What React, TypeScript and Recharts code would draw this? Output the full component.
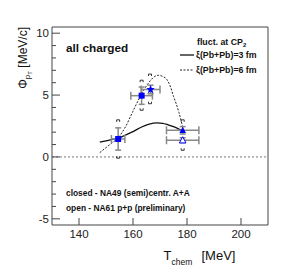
import React from "react";
import { ComposedChart, Line, Scatter, ErrorBar, XAxis, YAxis, ReferenceLine, ReferenceArea } from "recharts";

// model curves: fluctuations at CP2
const curve3fmT = [147.7, 150, 152, 154.5, 157, 160, 163, 166, 169, 171, 173, 175, 177, 178.3];
const curve3fmPhi = [1.2, 1.3, 1.4, 1.5, 1.75, 2.05, 2.4, 2.65, 2.75, 2.72, 2.6, 2.45, 2.25, 2.1];
const curve6fmT = [147.7, 150, 152, 154.5, 157, 160, 162, 164, 166, 168, 169.5, 171, 172.5, 174, 175, 176, 177, 178.3];
const curve6fmPhi = [0.35, 0.75, 1.1, 1.55, 2.35, 3.7, 4.6, 5.4, 6.05, 6.5, 6.6, 6.5, 6.27, 5.6, 4.9, 4.3, 3.6, 2.5];

// NA49 (closed) and NA61 (open) points
const squareT = [154.5, 163.2];
const squarePhi = [1.45, 4.95];
const squareErrT = [2.5, 4];
const squareErrPhi = [0.9, 0.7];
const starT = [166.5];
const starPhi = [5.45];
const starErrT = [3.5];
const starErrPhi = [0.35];
const triT = [178.4];
const triPhi = [2.15];
const triErrT = [6];
const triErrPhi = [0.3];
const openTriT = [178.4];
const openTriPhi = [1.35];
const openTriErrT = [6];
const openTriErrPhi = [0.2];

// systematic error brackets
const sysHighT = [154.5, 163.2, 166.3, 178.4];
const sysHighPhi = [3.0, 6.2, 6.7, 3.0];
const sysLowT = [154.5, 163.2, 166.3, 178.4];
const sysLowPhi = [-0.1, 3.77, 4.3, 0.54];

const yTicks = [-5, -4, -3, -2, -1, 0, 1, 2, 3, 4, 5, 6, 7, 8, 9, 10];
const xTicks = [140, 160, 180, 200];

const zip = (ts: number[], ps: number[], ets?: number[], eps?: number[]) =>
  ts.map((t, i) => ({ t, phi: ps[i], et: ets ? ets[i] : 0, ep: eps ? eps[i] : 0 }));

const BLUE = "#0000ff";
const AXIS = "#444";
const ERR = "#888";
const FONT = '"Liberation Sans", Arial, sans-serif';

const YTick = (props: any) => {
  const { x, y, payload } = props;
  const ax = x + 3;
  const major = payload.value % 5 === 0;
  return (
    <g>
      <line x1={ax} x2={ax + (major ? 8 : 4)} y1={y} y2={y} stroke={AXIS} />
      {major && (
        <text x={x} y={y} dy="0.36em" textAnchor="end" fontSize={11.5} fill="#222" fontFamily={FONT}>
          {payload.value}
        </text>
      )}
    </g>
  );
};

const XTick = (props: any) => {
  const { x, y, payload } = props;
  const ay = y - 4;
  return (
    <g>
      <line x1={x} x2={x} y1={ay} y2={ay - 7} stroke={AXIS} />
      <text x={x} y={ay + 12.5} textAnchor="middle" fontSize={11.5} fill="#222" fontFamily={FONT}>
        {payload.value}
      </text>
    </g>
  );
};

const Square = (p: any) => <rect x={p.cx - 3} y={p.cy - 3} width={6} height={6} fill={BLUE} />;

const Star = (p: any) => {
  const pts: string[] = [];
  for (let i = 0; i < 10; i++) {
    const r = i % 2 === 0 ? 4.5 : 1.9;
    const a = -Math.PI / 2 + (i * Math.PI) / 5;
    pts.push(`${p.cx + r * Math.cos(a)},${p.cy + r * Math.sin(a)}`);
  }
  return <polygon points={pts.join(" ")} fill={BLUE} />;
};

const Tri = (p: any) => (
  <polygon points={`${p.cx},${p.cy - 3.5} ${p.cx - 3.3},${p.cy + 2.7} ${p.cx + 3.3},${p.cy + 2.7}`} fill={BLUE} />
);

const OpenTri = (p: any) => (
  <polygon
    points={`${p.cx},${p.cy - 3.5} ${p.cx - 3.3},${p.cy + 2.7} ${p.cx + 3.3},${p.cy + 2.7}`}
    fill="#fff"
    stroke={BLUE}
    strokeWidth={1}
  />
);

const BracketHigh = (p: any) => (
  <path d={`M${p.cx - 1.5},${p.cy + 2} L${p.cx - 1.5},${p.cy} L${p.cx + 1.5},${p.cy} L${p.cx + 1.5},${p.cy + 2}`} fill="none" stroke="#333" />
);
const BracketLow = (p: any) => (
  <path d={`M${p.cx - 1.5},${p.cy - 2} L${p.cx - 1.5},${p.cy} L${p.cx + 1.5},${p.cy} L${p.cx + 1.5},${p.cy - 2}`} fill="none" stroke="#333" />
);

export default function App() {
  return (
    <div style={{ position: "absolute", left: 0, top: 0, width: 291, height: 275, background: "#fff", fontFamily: FONT }}>
      <ComposedChart width={291} height={275} margin={{ top: 27, right: 23, left: 12, bottom: 20 }}>
        <XAxis
          type="number"
          dataKey="t"
          domain={[130, 210]}
          ticks={xTicks}
          allowDataOverflow
          axisLine={false}
          tickLine={false}
          tickSize={0}
          tickMargin={4}
          height={30}
          tick={<XTick />}
        />
        <YAxis
          type="number"
          dataKey="phi"
          domain={[-5.5, 10.5]}
          ticks={yTicks}
          interval={0}
          allowDataOverflow
          axisLine={false}
          tickLine={false}
          tickSize={0}
          tickMargin={3}
          width={40}
          tick={<YTick />}
        />
        <ReferenceArea x1={130} x2={210} y1={-5.5} y2={10.5} fill="none" stroke={AXIS} strokeWidth={1} />
        <ReferenceLine y={0} stroke="#777" strokeDasharray="2 2" />
        <Line
          data={zip(curve3fmT, curve3fmPhi)}
          dataKey="phi"
          type="monotone"
          stroke="#111"
          strokeWidth={1.3}
          dot={false}
          isAnimationActive={false}
        />
        <Line
          data={zip(curve6fmT, curve6fmPhi)}
          dataKey="phi"
          type="monotone"
          stroke="#222"
          strokeWidth={1}
          strokeDasharray="2 1.5"
          dot={false}
          isAnimationActive={false}
        />
        <Scatter data={zip(sysHighT, sysHighPhi)} dataKey="phi" shape={<BracketHigh />} isAnimationActive={false} />
        <Scatter data={zip(sysLowT, sysLowPhi)} dataKey="phi" shape={<BracketLow />} isAnimationActive={false} />
        <Scatter data={zip(openTriT, openTriPhi, openTriErrT, openTriErrPhi)} dataKey="phi" shape={<OpenTri />} isAnimationActive={false}>
          <ErrorBar dataKey="et" direction="x" width={4} stroke={ERR} isAnimationActive={false} />
          <ErrorBar dataKey="ep" direction="y" width={3} stroke={ERR} isAnimationActive={false} />
        </Scatter>
        <Scatter data={zip(squareT, squarePhi, squareErrT, squareErrPhi)} dataKey="phi" shape={<Square />} isAnimationActive={false}>
          <ErrorBar dataKey="et" direction="x" width={4} stroke={ERR} isAnimationActive={false} />
          <ErrorBar dataKey="ep" direction="y" width={3} stroke={ERR} isAnimationActive={false} />
        </Scatter>
        <Scatter data={zip(starT, starPhi, starErrT, starErrPhi)} dataKey="phi" shape={<Star />} isAnimationActive={false}>
          <ErrorBar dataKey="et" direction="x" width={4} stroke={ERR} isAnimationActive={false} />
          <ErrorBar dataKey="ep" direction="y" width={3} stroke={ERR} isAnimationActive={false} />
        </Scatter>
        <Scatter data={zip(triT, triPhi, triErrT, triErrPhi)} dataKey="phi" shape={<Tri />} isAnimationActive={false}>
          <ErrorBar dataKey="et" direction="x" width={4} stroke={ERR} isAnimationActive={false} />
          <ErrorBar dataKey="ep" direction="y" width={3} stroke={ERR} isAnimationActive={false} />
        </Scatter>
      </ComposedChart>

      <svg width={291} height={275} style={{ position: "absolute", left: 0, top: 0, pointerEvents: "none" }} fontFamily={FONT}>
        <text x={66} y={52} fontSize={11.8} fontWeight="bold" fill="#111">all charged</text>

        <text x={197} y={45} fontSize={8.8} fontWeight="bold" fill="#111">
          fluct. at CP<tspan dy={2} fontSize={6}>2</tspan>
        </text>
        <line x1={180} x2={194} y1={55} y2={55} stroke="#111" strokeWidth={1.3} />
        <text x={196} y={58.2} fontSize={8.8} fontWeight="bold" fill="#111">ξ(Pb+Pb)=3 fm</text>
        <line x1={180} x2={194} y1={70} y2={70} stroke="#222" strokeDasharray="2 1.5" />
        <text x={196} y={73.2} fontSize={8.8} fontWeight="bold" fill="#111">ξ(Pb+Pb)=6 fm</text>

        <text x={66} y={196} fontSize={8.4} fontWeight="bold" fill="#111">closed - NA49 (semi)centr. A+A</text>
        <text x={66} y={210.5} fontSize={8.4} fontWeight="bold" fill="#111">open - NA61 p+p (preliminary)</text>

        <text transform="translate(27,27) rotate(-90)" textAnchor="end" fontSize={12} fill="#111">
          Φ<tspan dy={3} fontSize={8}>p</tspan>
          <tspan dy={2} fontSize={6}>T</tspan>
          <tspan dy={-5} fontSize={12}>{"  [MeV/c]"}</tspan>
        </text>

        <text x={163.5} y={260} fontSize={13} fill="#111">
          T<tspan dy={5} fontSize={8.5}>chem</tspan>
        </text>
        <text x={201.5} y={260} fontSize={13} fill="#111">[MeV]</text>
      </svg>
    </div>
  );
}
